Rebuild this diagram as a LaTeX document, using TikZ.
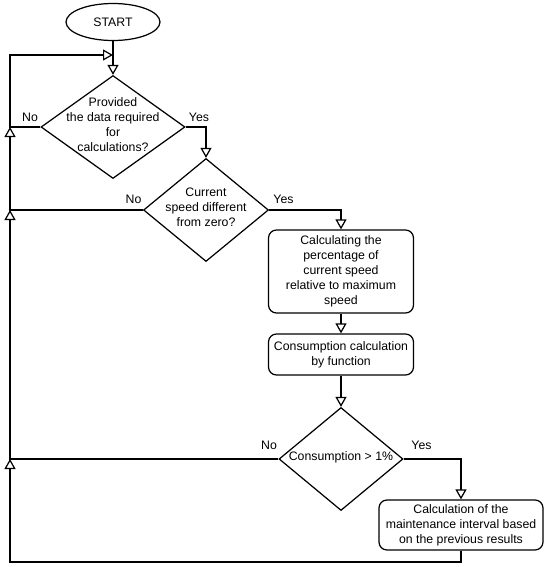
\documentclass[tikz,border=0pt]{standalone}
\usepackage{fontspec}
\setmainfont{Liberation Sans}
\usepackage{tikz}
\usetikzlibrary{arrows.meta,positioning,shapes.geometric}
\tikzset{
  fstart/.style   = {ellipse, draw, line width=0.7pt, minimum width=1.88cm, minimum height=0.74cm,
                     inner sep=0pt, font=\fontsize{7}{8.5}\selectfont},
  fdecide/.style  = {diamond, draw, line width=0.7pt, inner sep=0pt},
  fproc/.style    = {rectangle, draw, line width=0.7pt, rounded corners=0.16cm, minimum width=2.9cm,
                     align=center, inner sep=0pt, font=\fontsize{7}{8.5}\selectfont},
  ftext/.style    = {align=center, inner sep=0pt, font=\fontsize{7}{8.5}\selectfont},
  flabel/.style   = {inner sep=0pt, font=\fontsize{7}{8.5}\selectfont},
  farrow/.style   = {-{Triangle[open,length=0.2cm,width=0.22cm]}, line width=0.7pt},
}

\begin{document}
\begin{tikzpicture}
\useasboundingbox (0,0) rectangle (11,-11.34);
% start and first check
\node[fstart] (start) at (2.26,-0.44) {START};
\node[fdecide, minimum width=2.88cm, minimum height=2.06cm] (d1) at (2.26,-2.54) {};
\node[ftext] (d1txt) at (2.26,-2.49) {Provided\\the data required\\for\\calculations?};
\node[flabel] (no1)  at (0.60,-2.34) {No};
\node[flabel] (yes1) at (3.98,-2.34) {Yes};

% speed check
\node[fdecide, minimum width=2.5cm, minimum height=2.06cm] (d2) at (4.12,-4.2) {};
\node[ftext] (d2txt) at (4.12,-4.15) {Current\\speed different\\from zero?};
\node[flabel] (no2)  at (2.67,-3.98) {No};
\node[flabel] (yes2) at (5.67,-3.98) {Yes};

% processing boxes
\node[fproc, minimum height=1.66cm] (box1) at (6.82,-5.43)
  {Calculating the\\percentage of\\current speed\\relative to maximum\\speed};
\node[fproc, minimum height=0.82cm] (box2) at (6.82,-7.09)
  {Consumption calculation\\by function};

% consumption check
\node[fdecide, minimum width=2.48cm, minimum height=2.06cm] (d3) at (6.82,-9.18) {};
\node[ftext] (d3txt) at (6.82,-9.14) {Consumption > 1\%};
\node[flabel] (no3)  at (5.38,-8.91) {No};
\node[flabel] (yes3) at (8.43,-8.91) {Yes};

\node[fproc, minimum width=3.28cm, minimum height=1.0cm] (box3) at (9.22,-10.5)
  {Calculation of the\\maintenance interval based\\on the previous results};

% rail points
\coordinate (in1) at (2.26,-1.1);
\coordinate (j1)  at (0.2,-2.54);
\coordinate (j2)  at (0.2,-4.2);
\coordinate (j3)  at (0.2,-9.18);
\coordinate (bot) at (9.22,-11.24);

% connectors
\draw[farrow] (start) -- (d1);
\draw[farrow] (d1.west) -- (j1) |- (in1);
\draw[farrow] (d1.east) -| (d2.north);
\draw[farrow] (d2.west) -- (j2) -- (j1);
\draw[farrow] (d2.east) -| (box1.north);
\draw[farrow] (box1) -- (box2);
\draw[farrow] (box2) -- (d3);
\draw[farrow] (d3.west) -- (j3) -- (j2);
\draw[farrow] (d3.east) -| (box3.north);
\draw[farrow] (box3.south) -- (bot) -| (j3);
\end{tikzpicture}
\end{document}
